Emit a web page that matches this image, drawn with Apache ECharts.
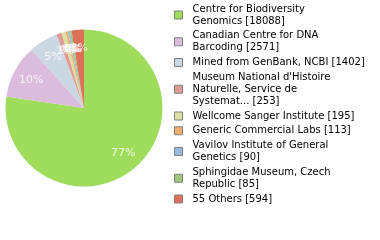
<!DOCTYPE html>
<html>
<head>
<meta charset="utf-8">
<script src="https://cdn.jsdelivr.net/npm/echarts@6/dist/echarts.min.js"></script>
<style>html,body{margin:0;padding:0;background:#fff}#c{width:380px;height:240px}</style>
</head>
<body>
<div id="c"></div>
<script>
var names = [
  "Centre for Biodiversity Genomics",
  "Canadian Centre for DNA Barcoding",
  "Mined from GenBank, NCBI",
  "Museum National d'Histoire Naturelle, Service de Systemat...",
  "Wellcome Sanger Institute",
  "Generic Commercial Labs",
  "Vavilov Institute of General Genetics",
  "Sphingidae Museum, Czech Republic",
  "55 Others"
];
var legendLabels = [
  "Centre for Biodiversity\nGenomics [18088]",
  "Canadian Centre for DNA\nBarcoding [2571]",
  "Mined from GenBank, NCBI [1402]",
  "Museum National d'Histoire\nNaturelle, Service de\nSystemat... [253]",
  "Wellcome Sanger Institute [195]",
  "Generic Commercial Labs [113]",
  "Vavilov Institute of General\nGenetics [90]",
  "Sphingidae Museum, Czech\nRepublic [85]",
  "55 Others [594]"
];
var values = [18088, 2571, 1402, 253, 195, 113, 90, 85, 594];
var colors = ["#a0dc5c", "#dcbcdc", "#cad8e4", "#e09c94", "#dce0a0", "#f0ac6c", "#98bce0", "#9cc878", "#dc7058"];

var total = values.reduce(function (a, b) { return a + b; }, 0);
var data = names.map(function (n, i) { return { name: n, value: values[i], itemStyle: { color: colors[i] } }; });
var legendMap = {};
names.forEach(function (n, i) { legendMap[n] = legendLabels[i]; });

// label positions: mid-angle of each slice (in value units) on the polar axis
var labelPts = [];
var acc = 0;
values.forEach(function (v) {
  labelPts.push({ value: [60, acc + v / 2], pct: Math.floor(v / total * 100) });
  acc += v;
});

var R = 78.5;
var chart = echarts.init(document.getElementById('c'), null, { renderer: 'canvas' });
chart.setOption({
  animation: false,
  polar: { center: [84, 108], radius: R },
  angleAxis: { type: 'value', min: 0, max: total, startAngle: 90, clockwise: true, show: false },
  radiusAxis: { type: 'value', min: 0, max: R, show: false },
  legend: {
    orient: 'vertical',
    left: 174,
    top: 3,
    padding: 0,
    itemWidth: 8,
    itemHeight: 8,
    itemGap: 2.75,
    icon: 'rect',
    selectedMode: false,
    data: names,
    itemStyle: { borderColor: '#808080', borderWidth: 1 },
    formatter: function (n) { return legendMap[n]; },
    textStyle: { fontFamily: 'DejaVu Sans', fontSize: 10, lineHeight: 12, color: '#000', padding: [0, 0, 0, 5] }
  },
  series: [
    {
      type: 'pie',
      center: [84, 108],
      radius: [0, R],
      startAngle: 90,
      clockwise: true,
      label: { show: false },
      labelLine: { show: false },
      emphasis: { disabled: true },
      data: data
    },
    {
      type: 'scatter',
      coordinateSystem: 'polar',
      silent: true,
      symbolSize: 1,
      itemStyle: { color: 'rgba(0,0,0,0)' },
      emphasis: { disabled: true },
      label: {
        show: true,
        position: 'inside',
        color: '#fff',
        fontFamily: 'DejaVu Sans',
        fontSize: 11,
        formatter: function (p) { return p.data.pct + '%'; }
      },
      data: labelPts
    }
  ]
});
</script>
</body>
</html>
